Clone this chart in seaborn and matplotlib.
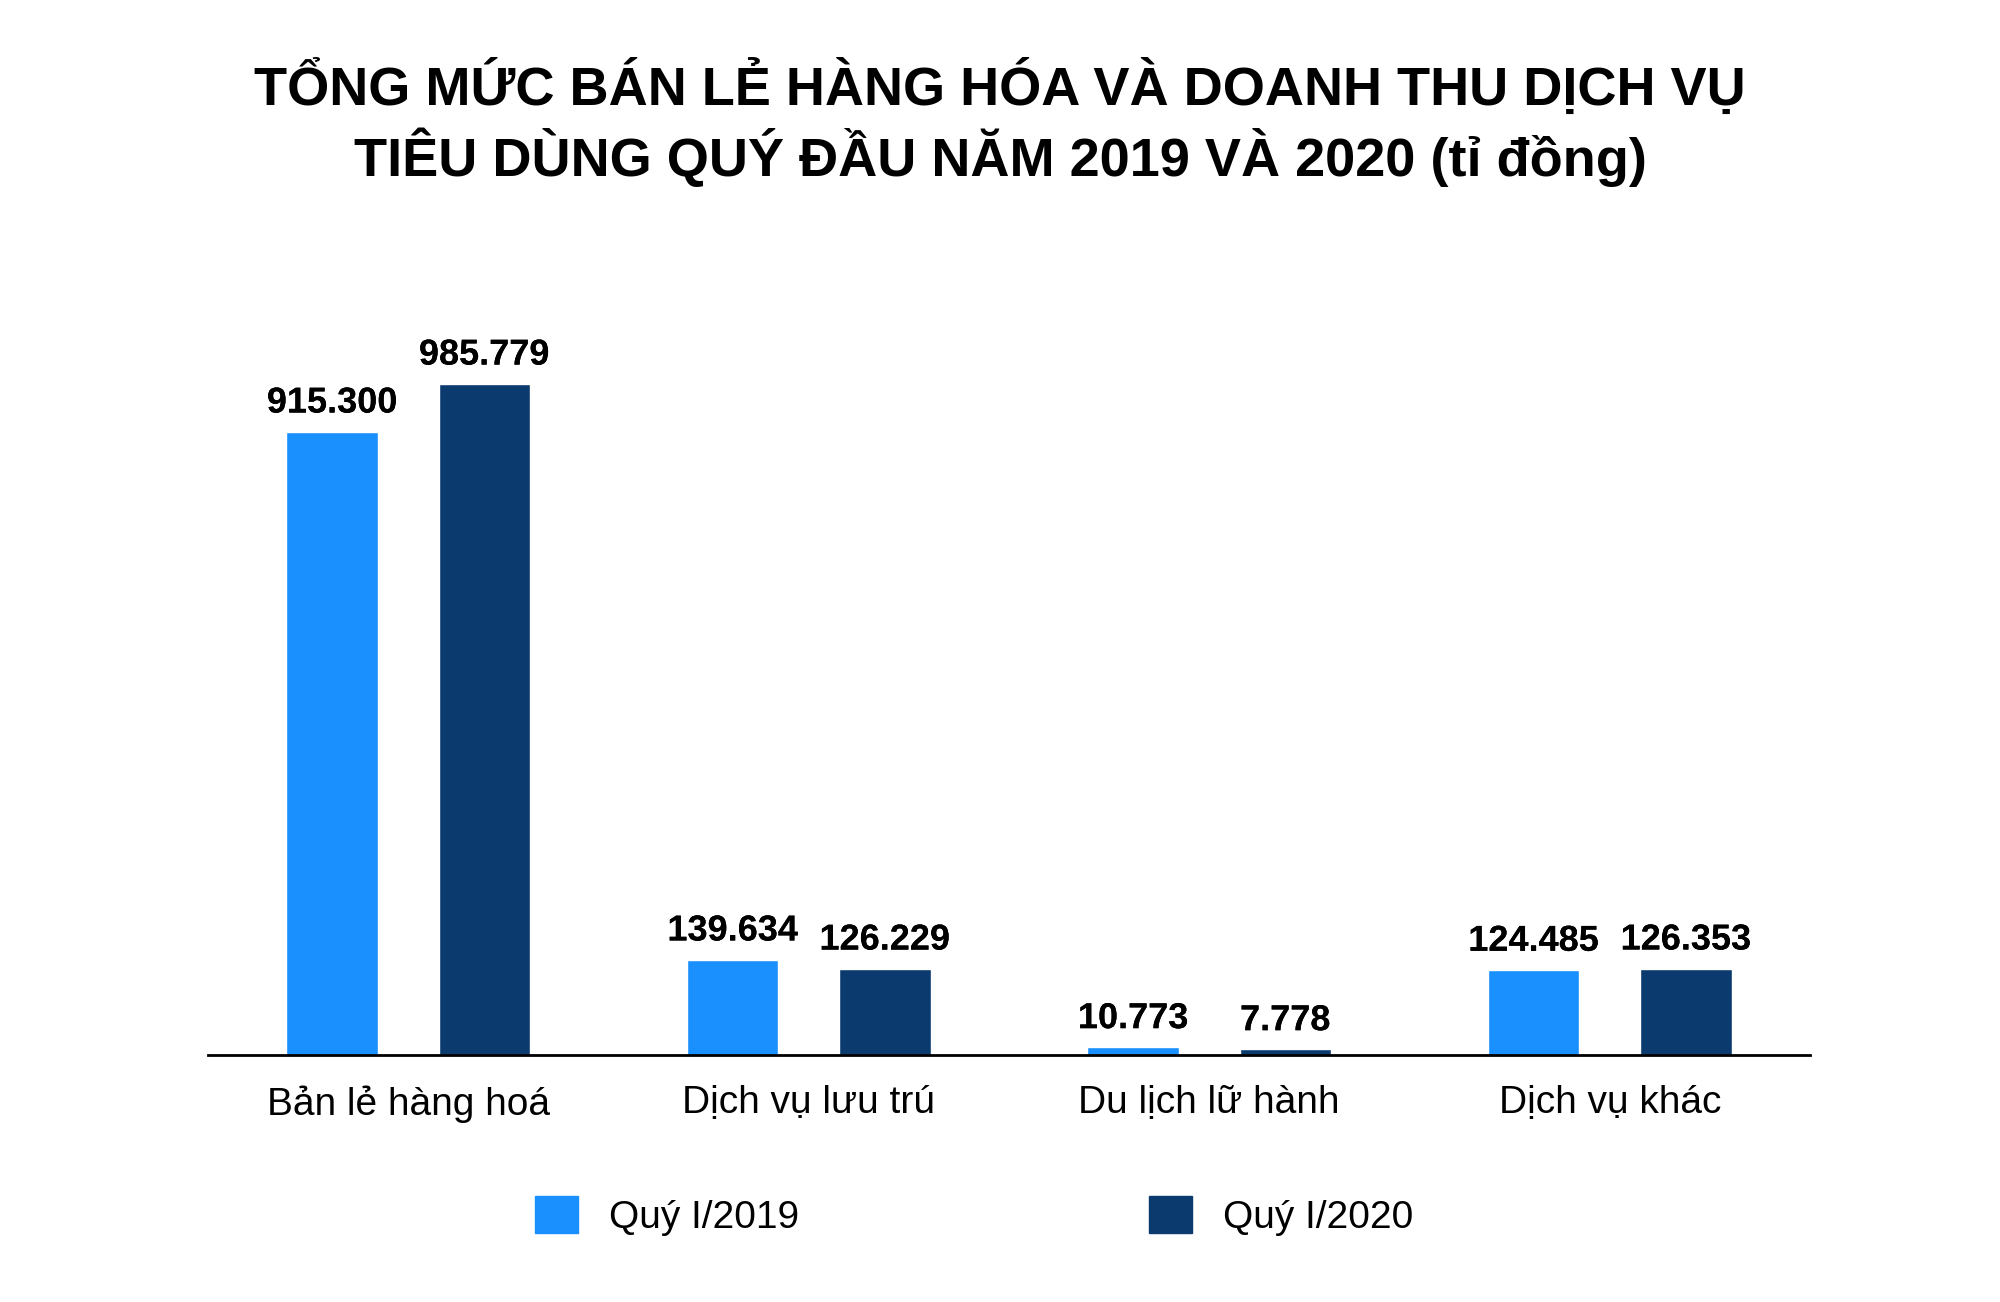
import matplotlib
matplotlib.use("Agg")
import matplotlib.pyplot as plt
import matplotlib.patheffects as pe
import pandas as pd
import seaborn as sns

categories = ["Bản lẻ hàng hoá", "Dịch vụ lưu trú", "Du lịch lữ hành", "Dịch vụ khác"]
series = ["Quý I/2019", "Quý I/2020"]
values_2019 = [915.300, 139.634, 10.773, 124.485]
values_2020 = [985.779, 126.229, 7.778, 126.353]
colors = ["#1a90ff", "#0b3b6e"]

df = pd.DataFrame({
    "cat": categories * 2,
    "series": [series[0]] * 4 + [series[1]] * 4,
    "value": values_2019 + values_2020,
})

sns.set_style("white")
plt.rcParams["font.family"] = ["Liberation Sans", "DejaVu Sans"]
plt.rcParams["text.color"] = "black"
plt.rcParams["xtick.color"] = "black"

fig = plt.figure(figsize=(20, 13.02), dpi=100)
ax = fig.add_axes([0.104, 0.19, 0.801, 0.575])
sns.barplot(data=df, x="cat", y="value", hue="series", palette=colors,
            width=0.76, gap=0.4, saturation=1, ax=ax, legend=False)

ax.set_xlim(-0.5, 3.5)
ax.set_ylim(0, 1100)
ax.set_xlabel("")
ax.set_ylabel("")
ax.set_yticks([])
for s in ["top", "left", "right"]:
    ax.spines[s].set_visible(False)
ax.spines["bottom"].set_linewidth(2)
ax.spines["bottom"].set_color("black")
ax.tick_params(axis="x", length=0, pad=22, labelsize=28, labelcolor="black")

glow = [pe.withSimplePatchShadow(offset=(0, 0), shadow_rgbFace="#c8dcf0", alpha=0.6), pe.Normal()]
for container in ax.containers:
    labels = [f"{v:.3f}" for v in container.datavalues]
    texts = ax.bar_label(container, labels=labels, padding=8, fontsize=26,
                         fontweight="bold", color="black")
    for t in texts:
        t.set_path_effects(glow)

fig.suptitle("TỔNG MỨC BÁN LẺ HÀNG HÓA VÀ DOANH THU DỊCH VỤ\nTIÊU DÙNG QUÝ ĐẦU NĂM 2019 VÀ 2020 (tỉ đồng)",
             fontsize=39, fontweight="bold", y=0.955, linespacing=1.25, color="black")

handles = [plt.Rectangle((0, 0), 1, 1, color=c) for c in colors]
fig.legend(handles, series, loc="center", bbox_to_anchor=(0.487, 0.066), ncol=2,
           frameon=False, fontsize=28, columnspacing=9, handlelength=1.1, handleheight=1.1,
           handletextpad=0.8)

fig.savefig("out.png", dpi=100, facecolor="white")
